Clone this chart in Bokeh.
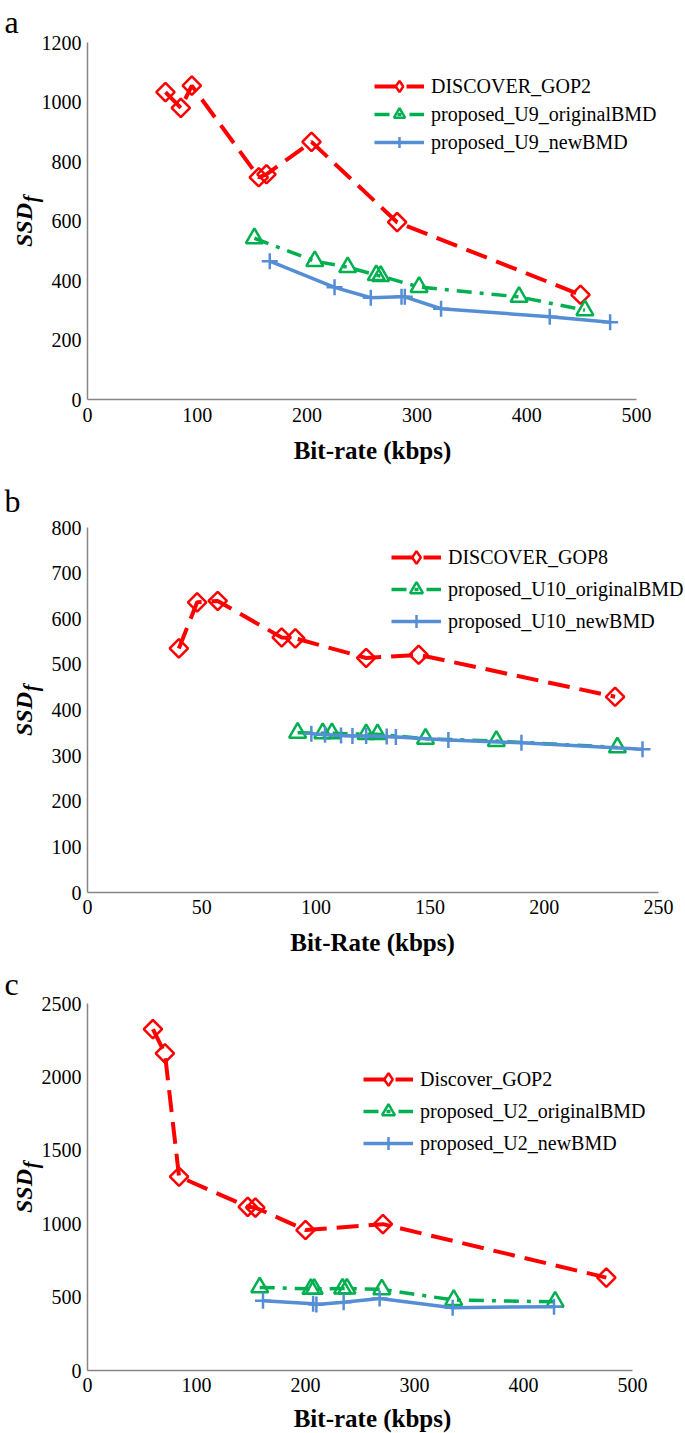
import math
from bokeh.plotting import figure
from bokeh.models import Range1d, FixedTicker, Legend, LegendItem, Label
from bokeh.layouts import column
from bokeh.embed import file_html
from bokeh.resources import INLINE

# ---------------- data ----------------
# panel a
a_xticks = [0, 100, 200, 300, 400, 500]
a_yticks = [0, 200, 400, 600, 800, 1000, 1200]
a_names = ["DISCOVER_GOP2", "proposed_U9_originalBMD", "proposed_U9_newBMD"]
a_red_x = [71, 85, 95, 156, 163, 204, 282, 449]
a_red_y = [1033, 980, 1055, 747, 757, 866, 596, 352]
a_green_x = [152, 207, 237, 263, 267, 302, 393, 453]
a_green_y = [542, 465, 445, 418, 415, 378, 345, 300]
a_blue_x = [166, 225, 258, 286, 289, 322, 421, 476]
a_blue_y = [465, 377, 342, 345, 345, 305, 278, 260]

# panel b
b_xticks = [0, 50, 100, 150, 200, 250]
b_yticks = [0, 100, 200, 300, 400, 500, 600, 700, 800]
b_names = ["DISCOVER_GOP8", "proposed_U10_originalBMD", "proposed_U10_newBMD"]
b_red_x = [40, 48, 57, 85, 91, 122, 145, 231]
b_red_y = [535, 636, 639, 559, 557, 514, 521, 429]
b_green_x = [92, 103, 107, 122, 127, 148, 179, 232]
b_green_y = [350, 349, 349, 347, 347, 337, 332, 318]
b_blue_x = [98, 104, 111, 116, 122, 131, 135, 158, 190, 243]
b_blue_y = [348, 346, 344, 343, 343, 342, 341, 334, 328, 314]

# panel c
c_xticks = [0, 100, 200, 300, 400, 500]
c_yticks = [0, 500, 1000, 1500, 2000, 2500]
c_names = ["Discover_GOP2", "proposed_U2_originalBMD", "proposed_U2_newBMD"]
c_red_x = [60, 71, 84, 147, 154, 200, 271, 476]
c_red_y = [2325, 2160, 1320, 1115, 1110, 957, 997, 633]
c_green_x = [158, 205, 208, 234, 238, 270, 336, 429]
c_green_y = [566, 556, 556, 558, 558, 553, 480, 468]
c_blue_x = [161, 207, 210, 235, 268, 335, 428]
c_blue_y = [475, 455, 450, 465, 490, 428, 435]

FONT = "Liberation Serif"
RED = "#FF0000"
GREEN = "#00B050"
BLUE = "#558ED5"
AXIS = "#868686"
W = 685


def sl(p, x, y, bottom, text, size, style="normal", angle=0.0, align="center",
       baseline="middle"):
    """Text placed at page pixel (x, y)."""
    p.add_layout(Label(x=x, y=bottom - y, x_units="screen", y_units="screen",
                       text=text, angle=angle, text_align=align,
                       text_baseline=baseline, text_font=FONT,
                       text_font_size=size, text_font_style=style,
                       text_color="black"))


def make_panel(letter, xticks, yticks, xlabel, rx, ry, gx, gy, bx, by, names,
               top, height, x0_px, x1_px, y0_px, y1_px, leg_x, leg_top, glyph_h,
               lab_standoff, title_y, letter_y):
    xmin, xmax = xticks[0], xticks[-1]
    ymin, ymax = yticks[0], yticks[-1]
    kx = (x1_px - x0_px) / (xmax - xmin)
    ky = (y0_px - y1_px) / (ymax - ymin)
    bottom = top + height
    x_start = xmin - x0_px / kx
    x_end = xmax + (W - x1_px) / kx
    y_start = ymin - (bottom - y0_px) / ky
    y_end = ymax + (y1_px - top) / ky

    p = figure(width=W, height=height, x_range=Range1d(x_start, x_end),
               y_range=Range1d(y_start, y_end),
               output_backend="svg", toolbar_location=None,
               min_border_left=0, min_border_right=0,
               min_border_top=0, min_border_bottom=0)
    p.outline_line_color = None
    p.grid.visible = False
    p.background_fill_color = "white"
    p.border_fill_color = "white"

    for ax in (p.xaxis[0], p.yaxis[0]):
        ax.fixed_location = 0
        ax.axis_line_color = AXIS
        ax.axis_line_width = 1.5
        ax.major_tick_out = 0
        ax.major_tick_in = 0
        ax.minor_tick_out = 0
        ax.minor_tick_in = 0
        ax.major_tick_line_color = None
        ax.minor_tick_line_color = None
        ax.major_label_text_font = FONT
        ax.major_label_text_font_size = "20px"
        ax.major_label_text_color = "black"
    p.xaxis.bounds = (xmin, xmax)
    p.yaxis.bounds = (ymin, ymax)
    p.xaxis.ticker = FixedTicker(ticks=xticks)
    p.yaxis.ticker = FixedTicker(ticks=yticks)
    p.xaxis.major_label_standoff = lab_standoff
    p.yaxis.major_label_standoff = 6

    rl = p.line(rx, ry, line_color=RED, line_width=4, line_dash="22 10")
    p.scatter(rx, ry, marker="square", angle=math.pi / 4, size=13,
              line_color=RED, line_width=2.5, fill_color=None)
    # diamond swatch used by the legend entry
    rproxy = p.scatter(rx, ry, marker="diamond", size=14, line_color=RED,
                       line_width=2.5, fill_color=None, visible=False)
    gl = p.line(gx, gy, line_color=GREEN, line_width=3.5, line_dash="15 8 4 8")
    gs = p.scatter(gx, gy, marker="triangle", size=17,
                   line_color=GREEN, line_width=2.5, fill_color=None)
    bl = p.line(bx, by, line_color=BLUE, line_width=3.5)
    bs = p.scatter(bx, by, marker="cross", size=16, line_color=BLUE, line_width=2.5)

    leg_h = 3 * glyph_h
    legend = Legend(items=[LegendItem(label=names[0], renderers=[rl, rproxy]),
                           LegendItem(label=names[1], renderers=[gl, gs]),
                           LegendItem(label=names[2], renderers=[bl, bs])],
                    location=(leg_x, bottom - (leg_top + leg_h)),
                    orientation="vertical",
                    glyph_width=50, glyph_height=glyph_h, label_height=20,
                    label_standoff=7, spacing=0, padding=0, margin=0,
                    border_line_color=None, background_fill_alpha=0,
                    label_text_font=FONT, label_text_font_size="20px",
                    label_text_color="black")
    p.add_layout(legend)

    mid = (y0_px + y1_px) / 2
    sl(p, 23, mid + 4, bottom, "SSD", "24px", "bold italic", math.pi / 2)
    sl(p, 30, mid - 22, bottom, "f", "20px", "bold italic", math.pi / 2)
    sl(p, 4, letter_y, bottom, letter, "32px", align="left")
    sl(p, 372, title_y, bottom, xlabel, "25px", "bold")
    return p


pa = make_panel("a", a_xticks, a_yticks, "Bit-rate (kbps)",
                a_red_x, a_red_y, a_green_x, a_green_y, a_blue_x, a_blue_y, a_names,
                top=0, height=468, x0_px=87, x1_px=636, y0_px=399, y1_px=42,
                leg_x=374, leg_top=72, glyph_h=28, lab_standoff=8,
                title_y=450, letter_y=21)
pb = make_panel("b", b_xticks, b_yticks, "Bit-Rate (kbps)",
                b_red_x, b_red_y, b_green_x, b_green_y, b_blue_x, b_blue_y, b_names,
                top=468, height=488, x0_px=87, x1_px=658, y0_px=892, y1_px=527,
                leg_x=391, leg_top=541, glyph_h=32, lab_standoff=7,
                title_y=942, letter_y=500)
pc = make_panel("c", c_xticks, c_yticks, "Bit-rate (kbps)",
                c_red_x, c_red_y, c_green_x, c_green_y, c_blue_x, c_blue_y, c_names,
                top=956, height=477, x0_px=87, x1_px=632, y0_px=1370, y1_px=1003,
                leg_x=363, leg_top=1063, glyph_h=32, lab_standoff=7,
                title_y=1418, letter_y=983)

layout = column(pa, pb, pc, spacing=0)
open("out.html", "w").write(file_html(layout, INLINE))
